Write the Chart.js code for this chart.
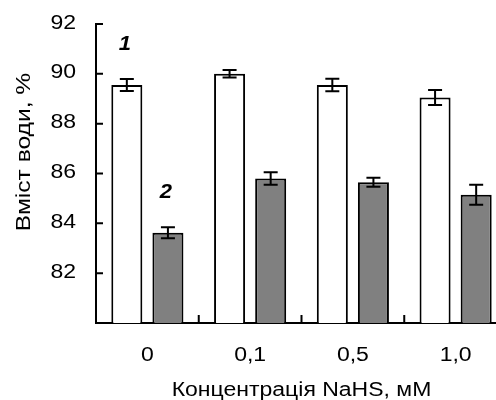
<!DOCTYPE html>
<html>
<head>
<meta charset="utf-8">
<script src="https://cdn.jsdelivr.net/npm/chart.js@4.4.0/dist/chart.umd.min.js"></script>
<style>
  html, body { margin: 0; padding: 0; background: #fff; overflow: hidden; }
  #wrap { width: 512px; height: 400px; }
</style>
</head>
<body>
<div id="wrap"><canvas id="waterChart"></canvas></div>
<script>
// Data
const categories = ['0', '0,1', '0,5', '1,0'];
const series1 = [89.55, 90.0, 89.55, 89.05];   // curve 1 (white bars)
const errors1 = [0.24, 0.15, 0.25, 0.3];
const series2 = [83.62, 85.8, 85.65, 85.15];   // curve 2 (grey bars)
const errors2 = [0.22, 0.25, 0.18, 0.4];
const yTicks = [82, 84, 86, 88, 90, 92];
const seriesNumbers = ['1', '2'];
const yTitle = 'Вміст води, %';
const xTitle = 'Концентрація NaHS, мМ';

const FONT = '"Liberation Sans", Arial, sans-serif';
Chart.defaults.font.family = FONT;
Chart.defaults.color = '#000';

// the original lettering is wider than Arial, so stretch it a bit
function wideText(ctx, text, x, y, sx, align, rot) {
  ctx.save();
  ctx.translate(x, y);
  if (rot) ctx.rotate(rot);
  ctx.scale(sx, 1);
  ctx.textAlign = align;
  ctx.textBaseline = 'middle';
  ctx.fillText(text, 0, 0);
  ctx.restore();
}

// error bars, curve numbers, inward ticks, tick labels and axis titles
const extras = {
  id: 'extras',
  afterDatasetsDraw(chart) {
    const ctx = chart.ctx;
    const y = chart.scales.y;
    ctx.save();
    ctx.strokeStyle = '#000';
    ctx.fillStyle = '#000';
    ctx.lineWidth = 2;
    [errors1, errors2].forEach((errs, d) => {
      const meta = chart.getDatasetMeta(d);
      meta.data.forEach((bar, i) => {
        const v = chart.data.datasets[d].data[i];
        const top = y.getPixelForValue(v + errs[i]);
        const bot = y.getPixelForValue(v - errs[i]);
        ctx.beginPath();
        ctx.moveTo(bar.x, top); ctx.lineTo(bar.x, bot);
        ctx.moveTo(bar.x - 7, top); ctx.lineTo(bar.x + 7, top);
        ctx.moveTo(bar.x - 7, bot); ctx.lineTo(bar.x + 7, bot);
        ctx.stroke();
        if (i === 0) {
          ctx.font = 'italic bold 20px ' + FONT;
          wideText(ctx, seriesNumbers[d], bar.x - 2, top - 35, 1.1, 'center');
        }
      });
    });
    ctx.restore();
  },
  afterDraw(chart) {
    const ctx = chart.ctx;
    const area = chart.chartArea;
    const x = chart.scales.x, y = chart.scales.y;
    ctx.save();
    ctx.strokeStyle = '#000';
    ctx.fillStyle = '#000';
    ctx.lineWidth = 2;
    ctx.font = '20px ' + FONT;
    ctx.beginPath();
    yTicks.forEach(v => {
      const py = y.getPixelForValue(v);
      ctx.moveTo(area.left, py); ctx.lineTo(area.left + 7, py);
      wideText(ctx, String(v), area.left - 20, py - 1, 1.15, 'right');
    });
    const step = x.getPixelForValue(1) - x.getPixelForValue(0);
    for (let i = 0; i < categories.length - 1; i++) {
      const px = x.getPixelForValue(i) + step / 2;
      ctx.moveTo(px, area.bottom); ctx.lineTo(px, area.bottom - 8);
    }
    ctx.stroke();
    categories.forEach((c, i) => {
      wideText(ctx, c, x.getPixelForValue(i), 355, 1.15, 'center');
    });

    wideText(ctx, xTitle, (area.left + area.right) / 2, 390, 1.15, 'center');
    wideText(ctx, yTitle, 24, 152, 1.23, 'center', -Math.PI / 2);
    ctx.restore();
  }
};

new Chart(document.getElementById('waterChart'), {
  type: 'bar',
  data: {
    labels: categories,
    datasets: [{
      label: '1',
      data: series1,
      backgroundColor: '#ffffff',
      borderColor: '#000',
      borderWidth: 2
    }, {
      label: '2',
      data: series2,
      backgroundColor: '#808080',
      borderColor: '#000',
      borderWidth: 2
    }]
  },
  options: {
    responsive: true,
    maintainAspectRatio: false,
    animation: false,
    categoryPercentage: 0.8,
    barPercentage: 0.755,
    layout: { padding: { top: 24, right: 5, left: 0, bottom: 0 } },
    plugins: { legend: { display: false }, tooltip: { enabled: false } },
    scales: {
      x: {
        grid: { display: false },
        border: { display: true, color: '#000', width: 2 },
        ticks: { display: false },
        afterFit(scale) { scale.height = 77; }
      },
      y: {
        min: 80,
        max: 92,
        grid: { display: false },
        border: { display: true, color: '#000', width: 2 },
        ticks: { display: false },
        afterBuildTicks(scale) { scale.ticks = yTicks.map(v => ({ value: v })); },
        afterFit(scale) { scale.width = 96; }
      }
    }
  },
  plugins: [extras]
});
</script>
</body>
</html>
